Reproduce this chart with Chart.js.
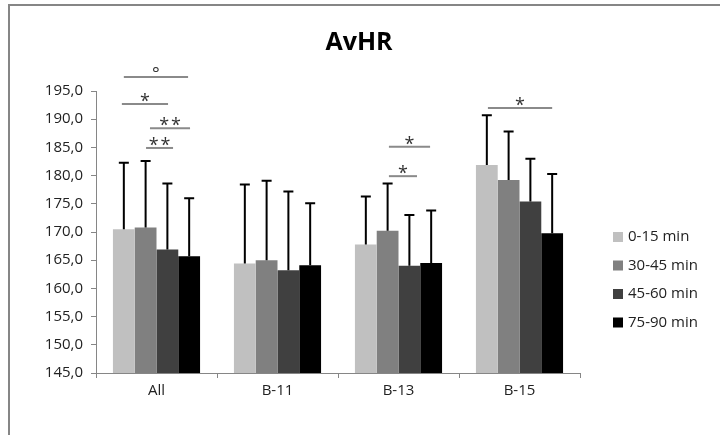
<!DOCTYPE html>
<html><head><meta charset="utf-8">
<script src="https://cdn.jsdelivr.net/npm/chart.js@4.4.0/dist/chart.umd.min.js"></script>
<style>html,body{margin:0;padding:0;background:#fff}#wrap{position:relative;width:720px;height:435px}</style>
</head><body><div id="wrap"><canvas id="c" width="720" height="435"></canvas></div>
<script>
const categories = ['All', 'B-11', 'B-13', 'B-15'];
const seriesLabels = ['0-15 min', '30-45 min', '45-60 min', '75-90 min'];
const chartTitle = 'AvHR';
const mean015  = [170.5, 164.4, 167.8, 181.9];
const mean3045 = [170.8, 165.0, 170.2, 179.2];
const mean4560 = [166.9, 163.2, 164.0, 175.4];
const mean7590 = [165.7, 164.1, 164.5, 169.8];
const sd015  = [11.8, 14.0, 8.5, 8.8];
const sd3045 = [11.8, 14.1, 8.4, 8.6];
const sd4560 = [11.7, 14.0, 9.0, 7.6];
const sd7590 = [10.3, 11.0, 9.3, 10.5];
const yTickValues = [145, 150, 155, 160, 165, 170, 175, 180, 185, 190, 195];
// significance brackets: category, from bar slot, to bar slot, level (y units), mark
const sigCategory = [0, 0, 0, 0, 2, 2, 3];
const sigFrom     = [0.0, -0.09, 1.2, 1.02, 1.06, 1.06, 0.05];
const sigTo       = [2.95, 2.03, 3.04, 2.26, 2.95, 2.35, 3.0];
const sigLevel    = [197.5, 192.7, 188.4, 184.9, 185.1, 179.9, 192.0];
const sigMark     = ['°', '*', '**', '**', '*', '*', '*'];

const colors = ['#C0C0C0', '#808080', '#404040', '#000000'];
const means = [mean015, mean3045, mean4560, mean7590];
const sds = [sd015, sd3045, sd4560, sd7590];
const FONT = "'Open Sans', sans-serif";

const framePlugin = {
  id: 'frame',
  beforeDraw(chart) {
    const ctx = chart.ctx;
    ctx.save();
    ctx.fillStyle = '#fff';
    ctx.fillRect(0, 0, chart.width, chart.height);
    ctx.strokeStyle = '#868686';
    ctx.lineWidth = 2;
    ctx.beginPath();
    ctx.moveTo(9, 435); ctx.lineTo(9, 5); ctx.lineTo(720, 5);
    ctx.stroke();
    ctx.fillStyle = '#000';
    ctx.font = "bold 25px " + FONT;
    ctx.textAlign = 'center';
    ctx.textBaseline = 'middle';
    ctx.fillText(chartTitle, 359, 43);
    ctx.restore();
  }
};

const errorBarPlugin = {
  id: 'errbars',
  afterDatasetsDraw(chart) {
    const ctx = chart.ctx, ys = chart.scales.y;
    ctx.save();
    ctx.strokeStyle = '#000';
    ctx.lineWidth = 2;
    chart.data.datasets.forEach((ds, i) => {
      const meta = chart.getDatasetMeta(i);
      meta.data.forEach((el, j) => {
        const top = ys.getPixelForValue(means[i][j] + sds[i][j]);
        ctx.beginPath();
        ctx.moveTo(el.x, el.y);
        ctx.lineTo(el.x, top);
        ctx.moveTo(el.x - 5, top);
        ctx.lineTo(el.x + 5, top);
        ctx.stroke();
      });
    });
    ctx.restore();
  }
};

const sigPlugin = {
  id: 'sig',
  afterDatasetsDraw(chart) {
    const ctx = chart.ctx, xs = chart.scales.x, ys = chart.scales.y;
    const meta0 = chart.getDatasetMeta(0), meta1 = chart.getDatasetMeta(1);
    const bw = meta1.data[0].x - meta0.data[0].x;
    ctx.save();
    sigCategory.forEach((c, k) => {
      const cx = xs.getPixelForValue(c);
      const x1 = cx + (sigFrom[k] - 1.5) * bw;
      const x2 = cx + (sigTo[k] - 1.5) * bw;
      const y = ys.getPixelForValue(sigLevel[k]);
      ctx.strokeStyle = '#8a8a8a';
      ctx.lineWidth = 2;
      ctx.beginPath();
      ctx.moveTo(x1, y); ctx.lineTo(x2, y);
      ctx.stroke();
      ctx.fillStyle = '#333';
      ctx.textAlign = 'center';
      ctx.textBaseline = 'alphabetic';
      const deg = sigMark[k] === '°';
      ctx.font = "18px " + FONT;
      const txt = deg ? sigMark[k] : sigMark[k].split('').join('\u200A');
      ctx.fillText(txt, (x1 + x2) / 2, deg ? y + 3 : y + 3);
    });
    ctx.restore();
  }
};

const legendPlugin = {
  id: 'customLegend',
  afterDraw(chart) {
    const ctx = chart.ctx;
    ctx.save();
    ctx.font = "15px " + FONT;
    ctx.textBaseline = 'middle';
    ctx.textAlign = 'left';
    seriesLabels.forEach((lab, i) => {
      const cy = 237 + i * 28.5;
      ctx.fillStyle = colors[i];
      ctx.fillRect(613, cy - 5, 10, 10);
      ctx.fillStyle = '#222';
      ctx.fillText(lab, 628, cy);
    });
    ctx.restore();
  }
};

new Chart(document.getElementById('c'), {
  type: 'bar',
  data: {
    labels: categories,
    datasets: seriesLabels.map((lab, i) => ({
      label: lab,
      data: means[i],
      backgroundColor: colors[i],
      borderWidth: 0,
      barPercentage: 1.0,
      categoryPercentage: 0.72
    }))
  },
  options: {
    responsive: false,
    animation: false,
    layout: { padding: { left: 10, right: 140, top: 91, bottom: 0 } },
    plugins: {
      legend: { display: false },
      tooltip: { enabled: false },
      title: { display: false }
    },
    scales: {
      x: {
        afterFit(s) { s.height = 62; },
        grid: { drawOnChartArea: false, drawTicks: true, tickLength: 5, color: '#868686', offset: true },
        border: { color: '#868686', width: 1 },
        ticks: { color: '#222', font: { family: FONT, size: 15 }, padding: 4 }
      },
      y: {
        min: 145, max: 195,
        afterFit(s) { s.width = 86; },
        afterBuildTicks(s) { s.ticks = yTickValues.map(v => ({ value: v })); },
        grid: { drawOnChartArea: false, drawTicks: true, tickLength: 5, color: '#868686' },
        border: { color: '#868686', width: 1 },
        ticks: {
          color: '#222', font: { family: FONT, size: 15 }, padding: 8,
          callback: v => Number(v).toFixed(1).replace('.', ',')
        }
      }
    }
  },
  plugins: [framePlugin, errorBarPlugin, sigPlugin, legendPlugin]
});
</script></body></html>
